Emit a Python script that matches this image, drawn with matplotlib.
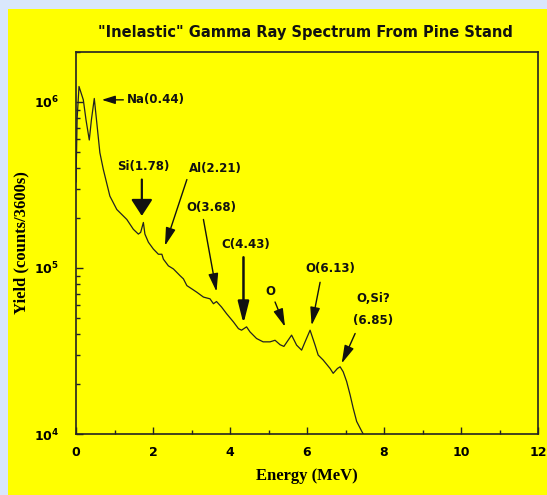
import numpy as np
import matplotlib
matplotlib.use("Agg")
import matplotlib.pyplot as plt
from matplotlib.patches import Rectangle
from matplotlib.ticker import FuncFormatter, MultipleLocator, LogLocator

# spectrum (energy in MeV, yield in counts/3600s)
energy = [0.0, 0.03, 0.078, 0.19, 0.26, 0.345, 0.40, 0.475, 0.54, 0.62, 0.71, 0.88,
          1.06, 1.32, 1.49, 1.62, 1.68, 1.75, 1.79, 1.88, 2.01, 2.14, 2.23, 2.27,
          2.40, 2.53, 2.70, 2.79, 2.88, 3.01, 3.14, 3.31, 3.48, 3.57, 3.65, 3.78,
          3.91, 4.09, 4.22, 4.30, 4.43, 4.52, 4.69, 4.86, 5.04, 5.17, 5.30, 5.40,
          5.60, 5.73, 5.86, 5.95, 6.08, 6.21, 6.29, 6.42, 6.60, 6.68, 6.79, 6.86,
          6.94, 7.03, 7.12, 7.20, 7.29, 7.42, 7.46]
counts = [3.3e5, 8.0e5, 1.24e6, 1.03e6, 7.8e5, 5.9e5, 7.8e5, 1.05e6, 7.5e5, 4.95e5, 3.92e5, 2.71e5,
          2.25e5, 1.96e5, 1.71e5, 1.60e5, 1.64e5, 1.88e5, 1.60e5, 1.43e5, 1.30e5, 1.21e5, 1.21e5, 1.13e5,
          1.03e5, 9.87e4, 9.0e4, 8.6e4, 7.83e4, 7.48e4, 7.14e4, 6.68e4, 6.52e4, 6.09e4, 6.28e4, 5.82e4,
          5.31e4, 4.73e4, 4.31e4, 4.22e4, 4.42e4, 4.12e4, 3.76e4, 3.59e4, 3.59e4, 3.67e4, 3.45e4, 3.37e4,
          3.94e4, 3.43e4, 3.20e4, 3.59e4, 4.22e4, 3.43e4, 2.99e4, 2.79e4, 2.48e4, 2.32e4, 2.48e4, 2.54e4,
          2.37e4, 2.07e4, 1.72e4, 1.43e4, 1.19e4, 1.04e4, 1.0e4]

# peak labels: text, text position, arrow tail, arrow tip, arrow kind
peak_labels = ["Na(0.44)", "Si(1.78)", "Al(2.21)", "O(3.68)", "C(4.43)", "O", "O(6.13)", "O,Si?\n(6.85)"]
label_xy = [(1.32, 1.03e6), (1.75, 4.1e5), (3.61, 4.0e5), (3.52, 2.31e5), (4.41, 1.39e5),
            (5.04, 7.2e4), (6.60, 9.9e4), (7.72, 5.6e4)]
label_ha = ["left", "center", "center", "center", "center", "center", "center", "center"]
tail_xy = [(1.23, 1.03e6), (1.71, 3.41e5), (2.88, 3.41e5), (3.31, 1.96e5), (4.35, 1.16e5),
           (5.17, 6.24e4), (6.34, 8.2e4), (7.25, 4.03e4)]
tip_xy = [(0.67, 1.03e6), (1.71, 2.06e5), (2.31, 1.36e5), (3.65, 7.2e4), (4.35, 4.62e4),
          (5.43, 4.42e4), (6.12, 4.51e4), (6.90, 2.66e4)]
arrow_kind = ["small", "big", "thin", "thin", "tall", "thin", "thin", "thin"]

arrow_styles = {
    "small": dict(arrowstyle="-|>,head_length=0.8,head_width=0.25", lw=1.0),
    "thin": dict(arrowstyle="-|>,head_length=1.1,head_width=0.3", lw=1.0),
    "big": dict(arrowstyle="-|>,head_length=1.0,head_width=0.65", lw=1.6),
    "tall": dict(arrowstyle="-|>,head_length=1.3,head_width=0.33", lw=1.8),
}

fig = plt.figure(figsize=(5.47, 4.95), dpi=100)
fig.patch.set_facecolor("#d9e7fb")
fig.patches.append(Rectangle((8 / 547, 0), 1, 486 / 495, transform=fig.transFigure,
                             facecolor="#ffff00", edgecolor="none", zorder=-5))

ax = fig.add_axes([76 / 547, 61 / 495, 462 / 547, 382 / 495])
ax.set_zorder(2)
ax.set_facecolor("#ffff00")
ax.plot(energy, counts, color="#222222", lw=0.9)
ax.set_yscale("log")
ax.set_xlim(0, 12)
ax.set_ylim(1e4, 2e6)

for txt, xy, ha, tail, tip, kind in zip(peak_labels, label_xy, label_ha, tail_xy, tip_xy, arrow_kind):
    ax.text(xy[0], xy[1], txt, ha=ha, va="center", fontsize=8.5, fontweight="bold",
            linespacing=1.9, color="#111111")
    props = dict(arrow_styles[kind])
    props.update(color="#111111", shrinkA=0, shrinkB=0, mutation_scale=10)
    ax.annotate("", xy=tip, xytext=tail, arrowprops=props)

ax.xaxis.set_major_locator(MultipleLocator(2))
ax.xaxis.set_minor_locator(MultipleLocator(1))
ax.yaxis.set_major_locator(LogLocator(base=10))
ax.yaxis.set_minor_locator(LogLocator(base=10, subs=np.arange(2, 10)))
ax.yaxis.set_major_formatter(FuncFormatter(lambda v, p: r"$\mathbf{10^{%d}}$" % round(np.log10(v))))
ax.xaxis.set_major_formatter(FuncFormatter(lambda v, p: "%d" % v))
ax.tick_params(which="both", direction="in", color="#222222", width=1)
ax.tick_params(which="major", length=5)
ax.tick_params(which="minor", length=3)
ax.tick_params(axis="x", which="major", pad=9, labelsize=9)
ax.tick_params(axis="y", which="major", pad=12, labelsize=9)
for lab in ax.get_xticklabels():
    lab.set_fontweight("bold")
for sp in ax.spines.values():
    sp.set_color("#222222")
    sp.set_linewidth(1.2)

ax.set_xlabel("Energy (MeV)", family="Liberation Serif", fontweight="bold", fontsize=12)
ax.set_ylabel("Yield (counts/3600s)", family="Liberation Serif", fontweight="bold", fontsize=12)
ax.xaxis.set_label_coords(0.5, -0.09)
ax.yaxis.set_label_coords(-0.1, 0.5)

fig.text(305 / 547, 1 - 33 / 495, "\"Inelastic\" Gamma Ray Spectrum From Pine Stand",
         ha="center", va="center", fontsize=10.5, fontweight="bold", color="#111111")

fig.savefig("out.png", dpi=100, facecolor=fig.get_facecolor())
